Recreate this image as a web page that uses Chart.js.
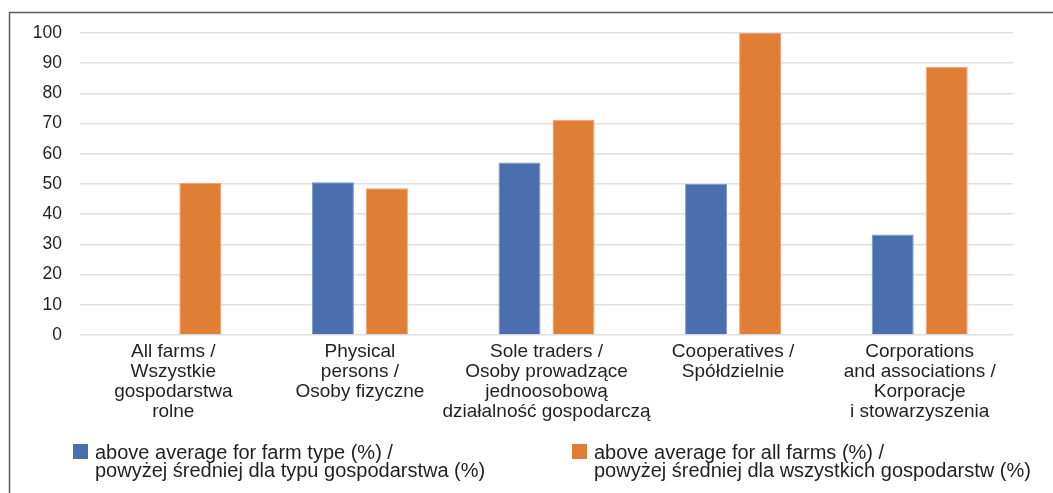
<!DOCTYPE html>
<html>
<head>
<meta charset="utf-8">
<script src="https://cdn.jsdelivr.net/npm/chart.js@4/dist/chart.umd.min.js"></script>
<style>
  html, body { margin: 0; padding: 0; background: #ffffff; }
  #wrap { position: relative; width: 1053px; height: 493px; }
</style>
</head>
<body>
<div id="wrap"><canvas id="chart" width="1053" height="493"></canvas></div>
<script>
// Farm categories (each label split into its printed lines)
const categories = [
  ["All farms /", "Wszystkie", "gospodarstwa", "rolne"],
  ["Physical", "persons /", "Osoby fizyczne"],
  ["Sole traders /", "Osoby prowadzące", "jednoosobową", "działalność gospodarczą"],
  ["Cooperatives /", "Spółdzielnie"],
  ["Corporations", "and associations /", "Korporacje", "i stowarzyszenia"]
];

// Share of farms above the average for their own type (%)
const aboveTypeAvg = [null, 50.6, 57.1, 50.0, 33.3];
// Share of farms above the average for all farms (%)
const aboveAllAvg = [50.4, 48.6, 71.3, 100, 88.8];

const seriesLabels = [
  ["above average for farm type (%) /", "powyżej średniej dla typu gospodarstwa (%)"],
  ["above average for all farms (%) /", "powyżej średniej dla wszystkich gospodarstw (%)"]
];

const yTicks = [0, 10, 20, 30, 40, 50, 60, 70, 80, 90, 100];

const FONT = "'Liberation Sans', Arial, Helvetica, sans-serif";
const TEXT = "#231f20";
const BLUE = "#4a6eae";
const ORANGE = "#e17e36";

// Outer frame (left and top edges visible in the page area)
const framePlugin = {
  id: "frame",
  afterDraw(chart) {
    const ctx = chart.ctx;
    ctx.save();
    ctx.strokeStyle = "#5a5a5a";
    ctx.lineWidth = 1.5;
    ctx.beginPath();
    ctx.moveTo(9.5, 600);
    ctx.lineTo(9.5, 12.5);
    ctx.lineTo(1100, 12.5);
    ctx.stroke();
    ctx.restore();
  }
};

// Two-column legend with two-line entries
const legendPlugin = {
  id: "twoLineLegend",
  afterDraw(chart) {
    const ctx = chart.ctx;
    const cols = [73, 572];
    ctx.save();
    ctx.font = "20px " + FONT;
    ctx.fillStyle = TEXT;
    ctx.textBaseline = "alphabetic";
    chart.data.datasets.forEach((ds, i) => {
      const x = cols[i];
      ctx.fillStyle = ds.backgroundColor;
      ctx.fillRect(x, 444, 15, 15);
      ctx.fillStyle = TEXT;
      ctx.textAlign = "left";
      ds.legendLines.forEach((line, j) => {
        ctx.fillText(line, x + 22, 458.5 + j * 18.5);
      });
    });
    ctx.restore();
  }
};

new Chart(document.getElementById("chart"), {
  type: "bar",
  data: {
    labels: categories,
    datasets: [
      {
        label: seriesLabels[0].join(" "),
        legendLines: seriesLabels[0],
        data: aboveTypeAvg,
        backgroundColor: BLUE,
        borderColor: "#7b96c8",
        borderWidth: 1,
        categoryPercentage: 0.579,
        barPercentage: 0.778
      },
      {
        label: seriesLabels[1].join(" "),
        legendLines: seriesLabels[1],
        data: aboveAllAvg,
        backgroundColor: ORANGE,
        borderColor: "#eda474",
        borderWidth: 1,
        categoryPercentage: 0.579,
        barPercentage: 0.778
      }
    ]
  },
  options: {
    responsive: false,
    animation: false,
    devicePixelRatio: 1,
    layout: { padding: { top: 33, right: 40, bottom: 58, left: 0 } },
    plugins: {
      legend: { display: false },
      tooltip: { enabled: false }
    },
    scales: {
      x: {
        grid: { display: false, drawTicks: false },
        border: { display: false },
        ticks: {
          color: TEXT,
          font: { family: FONT, size: 19, lineHeight: 1.05 },
          padding: 7,
          maxRotation: 0,
          autoSkip: false
        },
        afterFit(scale) { scale.height = 100; }
      },
      y: {
        min: 0,
        max: 100,
        afterBuildTicks(scale) { scale.ticks = yTicks.map(v => ({ value: v })); },
        grid: { color: "#e0e0e0", lineWidth: 1.5, drawTicks: false },
        border: { display: false },
        ticks: {
          color: TEXT,
          font: { family: FONT, size: 17.5 },
          padding: 18
        },
        afterFit(scale) { scale.width = 80; }
      }
    }
  },
  plugins: [framePlugin, legendPlugin]
});
</script>
</body>
</html>
